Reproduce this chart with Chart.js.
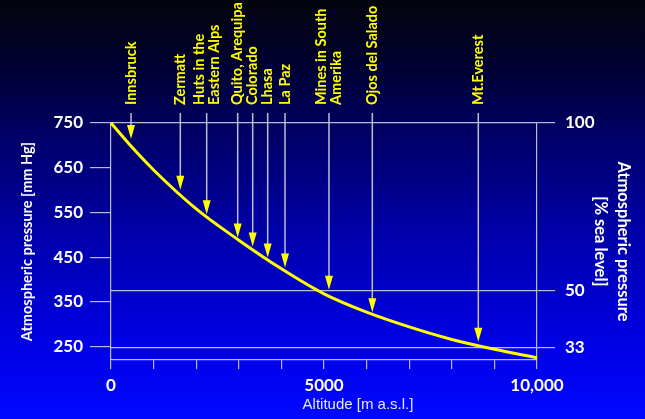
<!DOCTYPE html>
<html>
<head>
<meta charset="utf-8">
<script src="https://cdn.jsdelivr.net/npm/chart.js@4.4.1/dist/chart.umd.min.js"></script>
<style>
  html, body { margin: 0; padding: 0; }
  body {
    width: 645px; height: 419px; overflow: hidden;
    background: linear-gradient(to bottom, #04040c 0%, #00002c 14%, #00006c 34%, #0000b0 58%, #0000e4 82%, #0008ff 100%);
  }
  #wrap { position: relative; width: 645px; height: 419px; }
</style>
</head>
<body>
<div id="wrap"><canvas id="chart"></canvas></div>
<script>
// ==================== DATA ====================
const altitudes = [0, 500, 1000, 2000, 3000, 4000, 5000, 6000, 7000, 8000, 9000, 10000];
const pressures = [750, 695, 645, 558, 488, 424, 368, 327, 294, 266, 244, 225];

const leftTicks = [250, 350, 450, 550, 650, 750];
const rightTicks = [33, 50, 100];

const siteLabels = [
    ['Innsbruck'], ['Zermatt'], ['Huts in the', 'Eastern Alps'], ['Quito, Arequipa'], ['Colorado'],
    ['Lhasa'], ['La Paz'], ['Mines in South', 'Amerika'], ['Ojos del Salado'], ['Mt.Everest']
];
const siteAltitudes = [470, 1627, 2246, 2974, 3326, 3678, 4085, 5117, 6134, 8622];
const siteTipPressures = [714, 601, 546, 494, 474, 449, 427, 377, 327, 261];

// ==================== STYLE ====================
const lineColor = 'rgba(205,205,235,0.9)';
const yellow = '#ffff00';
const tickFont = { family: 'Lato', size: 17, weight: 'bold' };

// arrows + labels over the curve
const arrowPlugin = {
    id: 'arrows',
    afterDatasetsDraw(chart) {
        const { ctx, chartArea, scales } = chart;
        ctx.save();
        siteAltitudes.forEach((alt, i) => {
            const x = scales.x.getPixelForValue(alt);
            const tip = scales.y.getPixelForValue(siteTipPressures[i]);
            const top = chartArea.top - 10;
            // shaft
            ctx.strokeStyle = 'rgba(200,200,215,0.95)';
            ctx.lineWidth = 1.5;
            ctx.beginPath();
            ctx.moveTo(x, top);
            ctx.lineTo(x, tip - 12);
            ctx.stroke();
            // head
            ctx.fillStyle = yellow;
            ctx.beginPath();
            ctx.moveTo(x - 4, tip - 14);
            ctx.lineTo(x + 4, tip - 14);
            ctx.lineTo(x, tip);
            ctx.closePath();
            ctx.fill();
            // label
            const lines = siteLabels[i];
            ctx.save();
            ctx.translate(x, chartArea.top - 18);
            ctx.rotate(-Math.PI / 2);
            ctx.font = 'bold 14.5px Lato';
            ctx.fillStyle = yellow;
            ctx.textAlign = 'left';
            ctx.textBaseline = 'middle';
            lines.forEach((t, j) => {
                ctx.fillText(t, 0, (j - (lines.length - 1) / 2) * 15);
            });
            ctx.restore();
        });
        // x axis title
        ctx.font = '15px "Liberation Sans"';
        ctx.fillStyle = '#e8e8ff';
        ctx.textAlign = 'center';
        ctx.textBaseline = 'middle';
        ctx.fillText('Altitude [m a.s.l.]', chartArea.left + 247, chartArea.bottom + 45);
        ctx.restore();
    }
};

// ==================== CHART ====================
new Chart(document.getElementById('chart'), {
    type: 'line',
    data: {
        datasets: [{
            data: altitudes.map((a, i) => ({ x: a, y: pressures[i] })),
            borderColor: yellow,
            borderWidth: 3,
            pointRadius: 0,
            cubicInterpolationMode: 'monotone',
            clip: 6
        }]
    },
    options: {
        responsive: true,
        maintainAspectRatio: false,
        animation: false,
        layout: { padding: { top: 123, left: 0, right: 0, bottom: 0 } },
        plugins: { legend: { display: false }, tooltip: { enabled: false } },
        scales: {
            x: {
                type: 'linear', min: 0, max: 10000,
                ticks: {
                    stepSize: 1000, color: '#ffffff', font: tickFont, padding: 6,
                    maxRotation: 0, autoSkip: false,
                    callback: v => v === 0 ? '0' : v === 5000 ? '5000' : v === 10000 ? '10,000' : ''
                },
                grid: { drawOnChartArea: false, tickLength: 9, color: lineColor, lineWidth: 1.2 },
                border: { color: lineColor, width: 1.2 },
                afterFit: s => { s.height = 59; }
            },
            y: {
                position: 'left', min: 220, max: 750,
                afterBuildTicks: s => { s.ticks = leftTicks.map(v => ({ value: v })); },
                ticks: { color: '#ffffff', font: tickFont, padding: 7 },
                grid: { drawOnChartArea: false, tickLength: 21, color: lineColor, lineWidth: 1.2 },
                border: { color: lineColor, width: 1.2 },
                title: {
                    display: true, text: 'Atmospheric pressure [mm Hg]', color: '#ffffff',
                    font: { family: 'Lato', size: 14.5, weight: 'bold' }, padding: { top: 19, bottom: 0 }
                },
                afterFit: s => { s.width = 111; }
            },
            y2: {
                position: 'right', min: 220 / 7.5, max: 100,
                afterBuildTicks: s => { s.ticks = rightTicks.map(v => ({ value: v })); },
                ticks: { color: '#ffffff', font: tickFont, padding: 10 },
                grid: { drawOnChartArea: true, tickLength: 18, color: lineColor, lineWidth: 1.2 },
                border: { color: lineColor, width: 1.2 },
                title: {
                    display: true, text: ['Atmospheric pressure', '[% sea level]'], color: '#ffffff',
                    font: { family: 'Lato', size: 16.5, weight: 'bold', lineHeight: 1.4 }, padding: { top: 10, bottom: 0 }
                },
                afterFit: s => { s.width = 108; }
            }
        }
    },
    plugins: [arrowPlugin]
});
</script>
</body>
</html>
